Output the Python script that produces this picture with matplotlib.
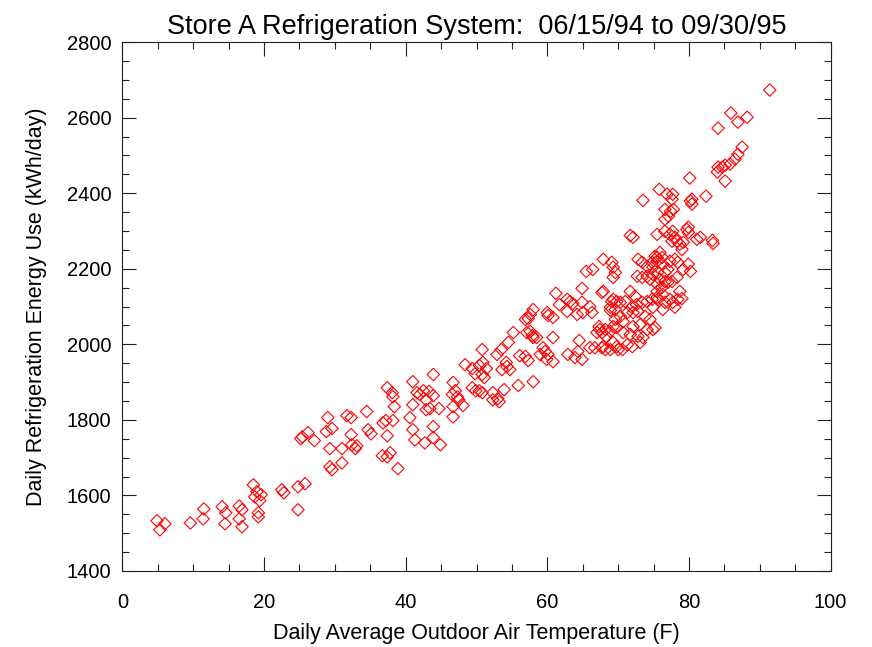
import matplotlib
matplotlib.use("Agg")
import matplotlib.pyplot as plt
from matplotlib.ticker import MultipleLocator

plt.rcParams["font.family"] = ["Liberation Sans", "DejaVu Sans"]

# daily average outdoor air temperature (F)
temp = [
    4.9, 5.3, 6.0, 9.6, 11.5, 11.4, 14.1, 14.6, 14.5, 16.5, 16.9, 16.5, 16.9,
    18.5, 19.0, 19.6, 18.7, 19.4, 19.2, 19.2, 22.5, 22.8, 24.8, 24.8, 25.8,
    25.4, 26.2, 27.1, 25.2, 28.8, 29.6, 29.0, 29.3, 31.0, 32.3, 31.7, 32.3,
    32.4, 32.9, 33.1, 29.3, 29.6, 31.0, 34.5, 34.7, 35.1, 36.8, 37.2, 38.2,
    37.4, 37.4, 38.2, 38.1, 38.4, 36.7, 37.8, 37.4, 38.9, 41.0, 41.6, 41.0,
    40.6, 41.0, 41.3,
    42.0, 42.5, 43.3, 43.9, 42.9, 42.9, 43.4, 44.7, 43.9, 43.9, 43.9, 42.7,
    44.9, 46.7, 46.6, 47.0, 47.3, 47.5, 48.4, 46.7, 48.1, 46.7, 50.8, 49.4,
    50.4, 50.9, 51.4, 49.8, 50.8, 51.1, 49.4, 49.9, 50.4, 50.8, 52.3, 53.0,
    52.3, 53.2, 52.9, 53.5, 53.6, 54.3, 54.7, 54.2, 54.5, 55.2, 56.1, 57.3,
    55.9, 53.9, 58.0, 57.9, 58.5, 57.1,
    61.2, 64.9, 67.7, 62.8, 63.2, 63.6, 61.7, 64.9, 66.0, 65.0, 66.3, 64.2,
    62.8, 69.1, 69.8, 68.9, 69.6, 58.0, 57.6, 56.9, 57.3, 60.0, 60.1, 60.8,
    67.3, 67.4, 67.0, 67.7, 68.2, 68.9, 69.3, 69.8, 68.3, 66.0, 66.7, 67.7,
    68.2, 69.3, 69.8, 70.0, 57.6, 58.0, 60.8, 64.5, 59.4, 59.7, 60.1, 59.0,
    59.9, 60.8, 62.9, 64.3, 64.9, 63.9, 56.9,
    71.7, 72.1, 75.5, 67.9, 69.1, 69.3, 69.6, 69.3, 72.8, 73.4, 74.1, 74.8,
    75.5, 72.7, 73.4, 74.1, 74.5, 74.9, 75.6, 67.9, 69.3, 68.9, 70.3, 71.0,
    71.7, 72.4, 71.9, 72.6, 73.4, 74.1, 74.8, 75.5, 71.3, 72.1, 72.8, 70.3,
    69.6, 70.7, 73.8, 74.5, 72.1, 73.1, 74.1, 74.9, 70.7, 71.7, 72.8, 73.5,
    67.9, 68.9, 70.6, 71.3, 72.0, 73.1,
    76.6, 77.3, 77.7, 79.7, 79.9, 78.3, 78.7, 79.2, 79.0, 81.1, 78.0, 77.6,
    75.9, 75.2, 76.2, 75.5, 76.3, 74.9, 76.6, 77.0, 77.3, 78.0, 78.4, 79.2,
    75.9, 76.6, 75.5, 76.2, 77.0, 77.6, 75.5, 76.3, 75.6, 76.6, 77.3, 77.7,
    78.4, 78.7, 74.9, 76.3, 78.0, 75.2,
    91.4, 85.9, 86.9, 88.2, 84.1, 87.5, 86.9, 86.5, 85.8, 85.1, 84.7, 84.1,
    84.0, 85.1, 80.1, 82.4, 80.4, 80.4,
    75.8, 73.5, 76.9, 77.7, 77.6, 80.2, 76.6, 77.4, 77.1, 77.8, 76.6, 79.9,
    83.3, 83.4, 81.6, 65.5, 66.4, 79.9, 80.2, 79.0, 78.3,
]

# daily refrigeration energy use (kWh/day)
energy = [
    1533, 1509, 1525, 1527, 1564, 1538, 1570, 1554, 1525, 1572, 1562, 1538, 1517,
    1628, 1610, 1602, 1596, 1586, 1554, 1543, 1615, 1607, 1623, 1562, 1631,
    1755, 1766, 1745, 1750, 1769, 1777, 1806, 1724, 1724, 1761, 1811, 1806,
    1734, 1724, 1731, 1676, 1668, 1686, 1822, 1774, 1763, 1792, 1798, 1798,
    1758, 1885, 1861, 1872, 1835, 1705, 1713, 1702, 1671, 1901, 1872, 1840,
    1806, 1774, 1747,
    1867, 1877, 1875, 1864, 1853, 1827, 1830, 1830, 1920, 1782, 1753, 1739,
    1734, 1899, 1867, 1877, 1861, 1853, 1946, 1835, 1838, 1808, 1986, 1936,
    1944, 1952, 1936, 1922, 1920, 1912, 1885, 1877, 1877, 1872, 1872, 1856,
    1853, 1848, 1973, 1986, 1933, 1941, 1933, 1952, 2005, 2031, 1970, 1957,
    1891, 1880, 1901, 2023, 2018, 2031,
    2135, 2148, 2137, 2119, 2113, 2108, 2105, 2111, 2100, 2084, 2084, 2079,
    2087, 2113, 2113, 2090, 2092, 2092, 2079, 2066, 2068, 2084, 2076, 2071,
    2047, 2039, 2031, 2031, 2039, 2034, 2047, 2044, 2021, 1991, 1991, 1991,
    1986, 2005, 1994, 1986, 2034, 2018, 2018, 2010, 1991, 1981, 1973, 1973,
    1960, 1954, 1973, 1981, 1960, 1965, 1968,
    2288, 2283, 2291, 2225, 2217, 2204, 2190, 2177, 2225, 2217, 2206, 2217,
    2230, 2180, 2177, 2180, 2172, 2185, 2190, 2140, 2119, 2098, 2111, 2113,
    2140, 2127, 2098, 2105, 2111, 2113, 2119, 2124, 2084, 2084, 2087, 2074,
    2066, 2060, 2074, 2066, 2047, 2052, 2039, 2039, 2031, 2026, 2021, 2018,
    1994, 1986, 1986, 1999, 1994, 2005,
    2299, 2291, 2299, 2304, 2296, 2273, 2265, 2270, 2251, 2278, 2283, 2273,
    2243, 2233, 2230, 2220, 2212, 2204, 2190, 2198, 2220, 2225, 2217, 2198,
    2172, 2166, 2159, 2151, 2164, 2166, 2140, 2132, 2119, 2111, 2119, 2111,
    2119, 2140, 2098, 2092, 2098, 2044,
    2673, 2612, 2588, 2601, 2572, 2522, 2503, 2490, 2477, 2474, 2469, 2469,
    2456, 2432, 2440, 2392, 2384, 2371,
    2410, 2381, 2397, 2397, 2384, 2379, 2357, 2352, 2339, 2357, 2331, 2310,
    2275, 2267, 2283, 2193, 2198, 2212, 2193, 2121, 2177,
]

fig = plt.figure(figsize=(8.72, 6.47), dpi=100)
ax = fig.add_axes([0.1403, 0.1175, 0.8123, 0.8175])

ax.scatter(temp, energy, marker="D", s=40, facecolors="none",
           edgecolors="red", linewidths=0.8)

ax.set_xlim(0, 100)
ax.set_ylim(1400, 2800)
ax.xaxis.set_major_locator(MultipleLocator(20))
ax.xaxis.set_minor_locator(MultipleLocator(5))
ax.yaxis.set_major_locator(MultipleLocator(200))
ax.yaxis.set_minor_locator(MultipleLocator(50))
ax.tick_params(which="both", direction="in", top=True, right=True,
               width=0.8, labelsize=14.5, color="#222222")
ax.tick_params(which="major", length=10)
ax.tick_params(which="minor", length=5)
ax.tick_params(axis="x", which="major", pad=16)
ax.tick_params(axis="y", which="major", pad=8)
for sp in ax.spines.values():
    sp.set_linewidth(0.8)
    sp.set_color("#222222")

ax.set_title("Store A Refrigeration System:  06/15/94 to 09/30/95",
             fontsize=19.5, pad=6)
ax.set_xlabel("Daily Average Outdoor Air Temperature (F)", fontsize=15.5,
              labelpad=8)
ax.set_ylabel("Daily Refrigeration Energy Use (kWh/day)", fontsize=15.5,
              labelpad=14)

fig.savefig("out.png", dpi=100)
